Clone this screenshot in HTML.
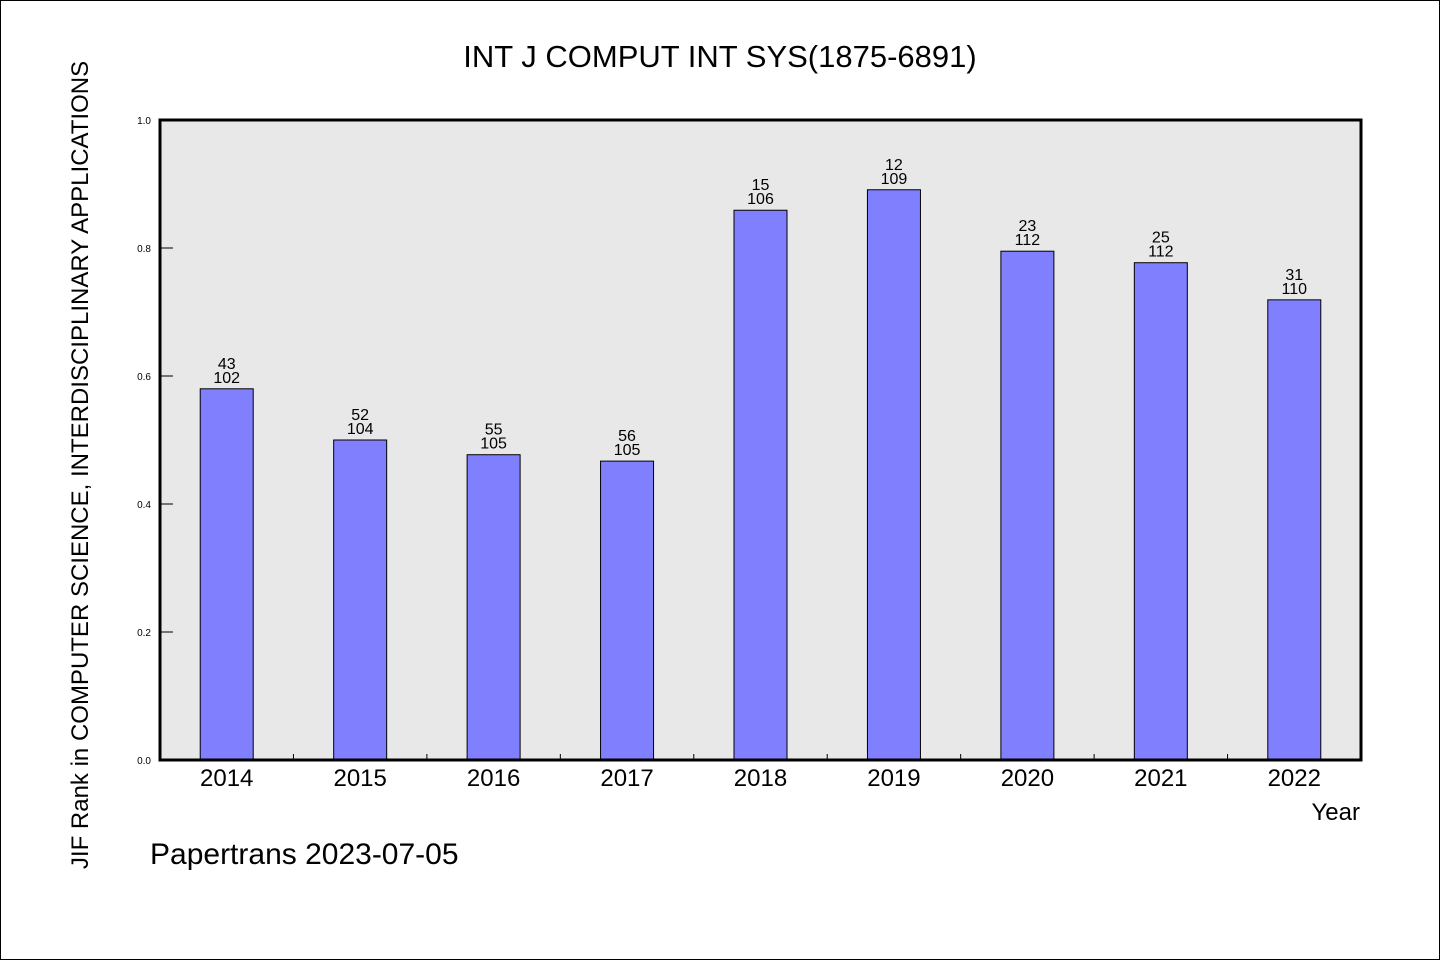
<!DOCTYPE html>
<html><head><meta charset="utf-8"><style>
html,body{margin:0;padding:0;background:#fff;}
svg{display:block;}
.h{font-family:"WenQuanYi Zen Hei","Liberation Sans",sans-serif;}
.s{font-family:"Liberation Sans",sans-serif;}
</style></head><body>
<svg id="chart" width="1440" height="960" xmlns="http://www.w3.org/2000/svg">
<rect x="0.5" y="0.5" width="1439" height="959" fill="#fff" stroke="#000"/>
<text class="h" x="720" y="67" font-size="31" text-anchor="middle">INT J COMPUT INT SYS(1875-6891)</text>
<text class="h" transform="translate(88,465) rotate(-90)" font-size="24" text-anchor="middle">JIF Rank in COMPUTER SCIENCE, INTERDISCIPLINARY APPLICATIONS</text>
<rect x="160" y="120" width="1201" height="640" fill="#e8e8e8"/>
<g id="bars"></g>
<g id="ticks"></g>
<rect x="160" y="120" width="1201" height="640" fill="none" stroke="#000" stroke-width="3"/>
<text class="h" x="1360" y="820" font-size="24" text-anchor="end">Year</text>
<text class="h" x="150" y="864" font-size="30">Papertrans 2023-07-05</text>
</svg>
<script>
const years = ["2014","2015","2016","2017","2018","2019","2020","2021","2022"];
const values = [0.580,0.500,0.477,0.467,0.859,0.891,0.795,0.777,0.719];
const ranks = ["43","52","55","56","15","12","23","25","31"];
const totals = ["102","104","105","105","106","109","112","112","110"];
const yTicks = [0,0.2,0.4,0.6,0.8,1.0];
const yTickLabels = ["0.0","0.2","0.4","0.6","0.8","1.0"];

const NS="http://www.w3.org/2000/svg";
const L=160,R=1361,T=120,B=760;
const bw=(R-L)/years.length;
const y=v=>B-(B-T)*v;
const x=i=>L+bw*(i+0.5);
function mk(t,a){const e=document.createElementNS(NS,t);for(const k in a)e.setAttribute(k,a[k]);return e;}
const bars=document.getElementById('bars'),ticks=document.getElementById('ticks');
years.forEach((yr,i)=>{
  const cx=x(i),top=y(values[i]);
  const r=mk('rect',{x:cx-26.5,y:top,width:53,height:B-top,fill:'#8080ff',stroke:'#000','stroke-width':1});
  
  
  bars.appendChild(r);
  const t1=mk('text',{x:cx,y:top-20,'font-size':16,'text-anchor':'middle',class:'h'});
  t1.textContent=ranks[i];
  
  
  bars.appendChild(t1);
  const t2=mk('text',{x:cx,y:top-6,'font-size':16,'text-anchor':'middle',class:'h'});
  t2.textContent=totals[i];
  
  
  bars.appendChild(t2);
  const xl=mk('text',{x:cx,y:786,'font-size':24,'text-anchor':'middle',class:'s'});
  xl.textContent=yr;
  
  
  ticks.appendChild(xl);
  if(i>0){
    const tk=mk('line',{x1:L+bw*i,x2:L+bw*i,y1:B,y2:B-6,stroke:'#000','stroke-width':1});
    
    
    ticks.appendChild(tk);
  }
});
yTicks.forEach((v,i)=>{
  const yy=y(v);
  const tk=mk('line',{x1:L,x2:L+13,y1:yy,y2:yy,stroke:'#000','stroke-width':1});
  
  
  ticks.appendChild(tk);
  const tl=mk('text',{x:151,y:yy+4,'font-size':10,'text-anchor':'end',class:'s'});
  tl.textContent=yTickLabels[i];
  
  
  ticks.appendChild(tl);
});
</script>
</body></html>
